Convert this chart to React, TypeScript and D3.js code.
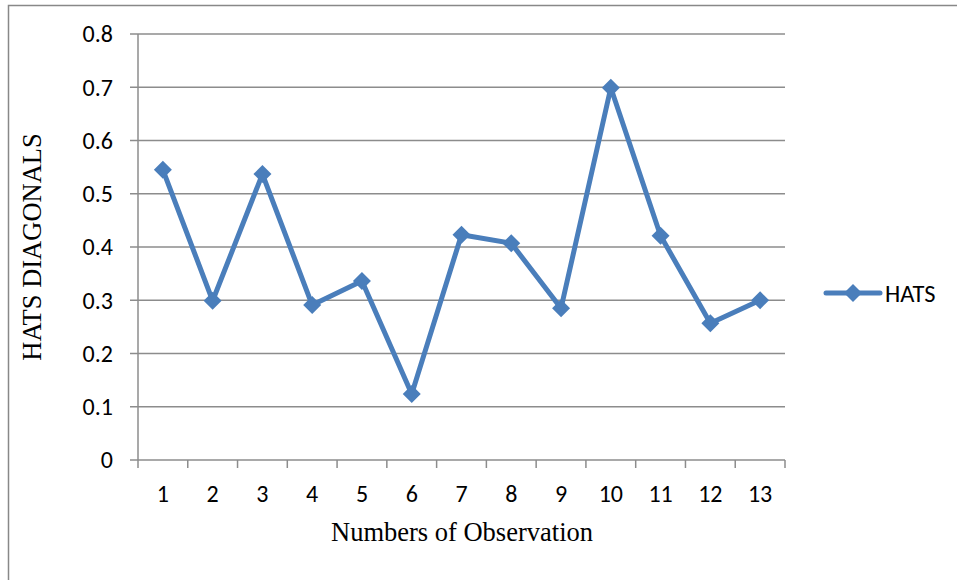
import React from "react";
import * as d3 from "d3";

const categories = ["1","2","3","4","5","6","7","8","9","10","11","12","13"];
const hats = [0.545, 0.299, 0.537, 0.291, 0.336, 0.124, 0.423, 0.407, 0.285, 0.699, 0.421, 0.257, 0.300];
const yTicks = [0, 0.1, 0.2, 0.3, 0.4, 0.5, 0.6, 0.7, 0.8];
const seriesName = "HATS";

export default function App() {
  const W = 957, H = 580;
  const left = 138, right = 785, top = 34, bottom = 460;
  const x = d3.scaleBand<string>().domain(categories).range([left, right]);
  const y = d3.scaleLinear().domain([0, 0.8]).range([bottom, top]);
  const color = "#4A7EBB";
  const grid = "#8C8C8C";
  const line = d3.line<number>().x((_, i) => x(categories[i])! + x.bandwidth() / 2).y(d => y(d));
  const diamond = (cx: number, cy: number, r = 9) => `M${cx},${cy - r}L${cx + r},${cy}L${cx},${cy + r}L${cx - r},${cy}Z`;
  const tickFont = "Carlito, 'Open Sans', 'Liberation Sans', sans-serif";
  const serif = "'Liberation Serif', 'Times New Roman', serif";
  return (
    <svg width={W} height={H} style={{ position: "absolute", left: 0, top: 0 }}>
      <rect x={0} y={0} width={W} height={H} fill="#fff" />
      <rect x={8.5} y={5.5} width={W + 10} height={H + 10} fill="none" stroke="#888" strokeWidth={1.5} />
      {yTicks.map(t => (
        <g key={t}>
          <line x1={130} x2={right} y1={y(t)} y2={y(t)} stroke={grid} strokeWidth={1.5} />
          <text x={113} y={y(t)} dy="0.35em" textAnchor="end" fontSize={24} fontFamily={tickFont} fill="#000">{t === 0 ? "0" : t.toFixed(1)}</text>
        </g>
      ))}
      <line x1={left} x2={left} y1={top} y2={bottom} stroke={grid} strokeWidth={1.5} />
      {[...categories.map(c => x(c)!), right].map((v, i) => (
        <line key={i} x1={v} x2={v} y1={bottom} y2={bottom + 8} stroke={grid} strokeWidth={1.5} />
      ))}
      {categories.map(c => (
        <text key={c} x={x(c)! + x.bandwidth() / 2} y={502} textAnchor="middle" fontSize={24} fontFamily={tickFont} fill="#000">{c}</text>
      ))}
      <path d={line(hats)!} fill="none" stroke={color} strokeWidth={5} strokeLinejoin="round" />
      {hats.map((v, i) => (
        <path key={i} d={diamond(x(categories[i])! + x.bandwidth() / 2, y(v))} fill={color} />
      ))}
      <text x={462} y={541} textAnchor="middle" fontSize={26.5} fontFamily={serif} fill="#000">Numbers of Observation</text>
      <text transform="translate(41,247) rotate(-90)" textAnchor="middle" fontSize={26.5} fontFamily={serif} fill="#000">HATS DIAGONALS</text>
      <line x1={826} x2={880} y1={293} y2={293} stroke={color} strokeWidth={5} strokeLinecap="round" />
      <path d={diamond(853, 293)} fill={color} />
      <text x={885} y={293} dy="0.35em" fontSize={24.5} fontFamily={tickFont} fill="#000">{seriesName}</text>
    </svg>
  );
}
